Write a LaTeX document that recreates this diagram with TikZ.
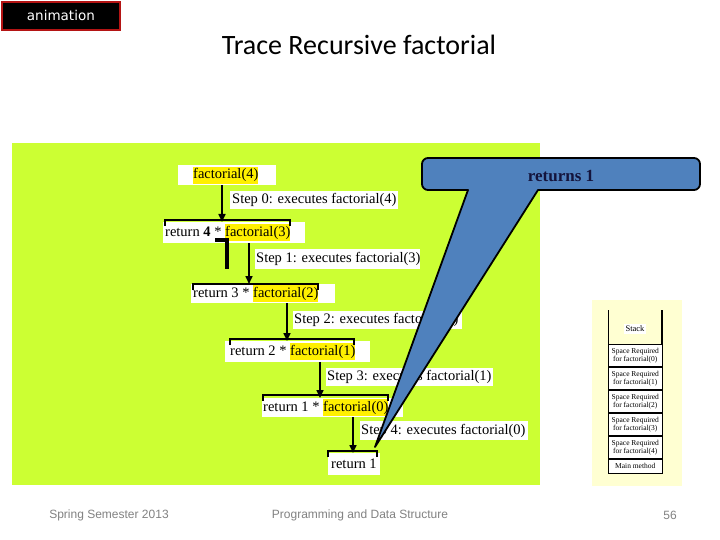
\documentclass[tikz,border=0pt]{standalone}
\usepackage{fontspec}
\usetikzlibrary{arrows.meta,calc}
\setmainfont{Liberation Serif}
\newfontfamily\titlefont{Carlito}
\newfontfamily\footfont{Liberation Sans}
\newfontfamily\animfont{DejaVu Sans}
\definecolor{limebg}{RGB}{204,255,51}
\definecolor{hlyellow}{RGB}{255,240,0}
\definecolor{animred}{RGB}{180,20,20}
\definecolor{calloutblue}{RGB}{79,129,189}
\definecolor{callouttext}{RGB}{20,20,60}
\definecolor{stackbg}{RGB}{255,255,210}
\definecolor{footgray}{RGB}{130,130,130}
\newcommand\hlt[1]{{\setlength{\fboxsep}{0pt}\colorbox{hlyellow}{\strut #1}}}
\newcommand\lbox[3]{\makebox[#1pt][l]{\hspace*{#2pt}#3}}
\tikzset{
  wbox/.style={fill=white, inner sep=0pt, anchor=north west,
    font=\fontsize{14.5}{17}\selectfont},
  flow/.style={line width=1.6pt, -{Triangle[length=8pt,width=7pt]}},
  brk/.style={line width=1.4pt},
  cell/.style={draw, line width=0.6pt, fill=white, minimum width=54pt,
    minimum height=22.4pt, inner sep=0pt, anchor=north west, align=center,
    font=\fontsize{7.5}{8.5}\selectfont},
  foot/.style={text=footgray, font=\footfont\fontsize{12}{14}\selectfont}
}
\begin{document}
\begin{tikzpicture}[x=1pt,y=-1pt]
\useasboundingbox (0,0) rectangle (720,540);
\fill[white] (0,0) rectangle (720,540);

% animation tag
\node[fill=black, draw=animred, line width=1.8pt, minimum width=118pt,
  minimum height=28pt, anchor=north west, text=white, inner sep=0pt,
  font=\animfont\fontsize{13.5}{15}\selectfont] (anim) at (1,1) {animation};

% title
\node[font=\titlefont\fontsize{28}{32}\selectfont] (title) at (359,45) {Trace Recursive factorial};

% green panel
\fill[limebg] (12,143) rectangle (540,485);

% text boxes
\node[wbox, minimum height=20pt] (f4) at (178,165) {\lbox{98}{15}{\hlt{factorial(4)}}};
\node[wbox, minimum height=18pt] (s0) at (230,191) {\lbox{168}{2}{Step 0: executes factorial(4)}};
\node[wbox, minimum height=21pt] (r4) at (163,222) {\lbox{142}{2}{return \textbf{4} * \hlt{factorial(3)}}};
\node[wbox, minimum height=20pt] (s1) at (255,249) {\lbox{165}{1}{Step 1: executes factorial(3)}};
\node[wbox, minimum height=19pt] (r3) at (191,284) {\lbox{144}{2}{return 3 * \hlt{factorial(2)}}};
\node[wbox, minimum height=18pt] (s2) at (293,311) {\lbox{169}{1}{Step 2: executes factorial(2)}};
\node[wbox, minimum height=21pt] (r2) at (225,341) {\lbox{145}{5}{return 2 * \hlt{factorial(1)}}};
\node[wbox, minimum height=18pt] (s3) at (326,368) {\lbox{167}{1}{Step 3: executes factorial(1)}};
\node[wbox, minimum height=19pt] (r1) at (262,398) {\lbox{141}{1}{return 1 * \hlt{factorial(0)}}};
\node[wbox, minimum height=19pt] (s4) at (360,421) {\lbox{168}{1}{Step 4: executes factorial(0)}};
\node[wbox, minimum height=22pt] (ret) at (328,453) {\lbox{52}{3}{return 1}};

% brackets
\draw[brk] (165,226) -- (165,220) -- (290,220) -- (290,226);
\draw[brk] (193,290) -- (193,284) -- (318,284) -- (318,290);
\draw[brk] (230,345) -- (230,339) -- (354,339) -- (354,345);
\draw[brk] (263,401) -- (263,395) -- (388,395) -- (388,401);
\draw[brk] (328,457) -- (328,451) -- (377,451) -- (377,457);

% arrows
\coordinate (x0) at (222,0);
\coordinate (x1) at (249,0);
\coordinate (x2) at (287,0);
\coordinate (x3) at (320,0);
\coordinate (x4) at (353,0);
\draw[flow] (f4.south -| x0) -- (r4.north -| x0);
\draw[flow] (r4.south -| x1) -- (r3.north -| x1);
\draw[flow] (r3.south -| x2) -- (r2.north -| x2);
\draw[flow] (r2.south -| x3) -- (r1.north -| x3);
\draw[flow] (r1.south -| x4) -- (ret.north -| x4);

% black mark
\draw[line width=4pt] (215,240) -- (227,240) -- (227,269);

% callout
\filldraw[fill=calloutblue, draw=black, line width=1.8pt, line join=round]
  (375,447) -- (468,190) [rounded corners=6pt] -- (422,190) -- (422,158)
  -- (700,158) -- (700,190) [sharp corners] -- (538,190) -- cycle;
\node[font=\bfseries\fontsize{17}{20}\selectfont, text=callouttext] (callout) at (561,176) {returns 1};

% stack
\fill[stackbg] (592,300) rectangle (682,486);
\draw[line width=0.7pt] (608,310) -- (608,344);
\draw[line width=1.2pt] (662,310) -- (662,344);
\node[fill=white, inner sep=2pt, font=\fontsize{8.5}{9}\selectfont] (stk) at (635,329) {Stack};
\node[cell] (c0) at (608,344) {Space Required\\for factorial(0)};
\node[cell, anchor=north] (c1) at (c0.south) {Space Required\\for factorial(1)};
\node[cell, anchor=north] (c2) at (c1.south) {Space Required\\for factorial(2)};
\node[cell, anchor=north] (c3) at (c2.south) {Space Required\\for factorial(3)};
\node[cell, anchor=north] (c4) at (c3.south) {Space Required\\for factorial(4)};
\node[cell, anchor=north, minimum height=14pt] (cm) at (c4.south) {Main method};

% footer
\node[foot] (f1) at (109,515) {Spring Semester 2013};
\node[foot] (f2) at (360,515) {Programming and Data Structure};
\node[foot] (f3) at (670,515) {56};
\end{tikzpicture}
\end{document}
